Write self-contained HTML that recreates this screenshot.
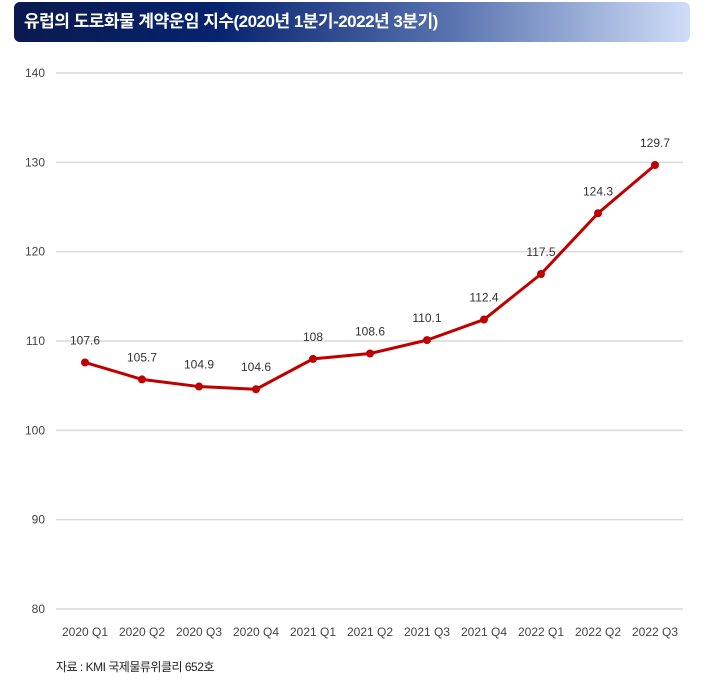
<!DOCTYPE html>
<html><head><meta charset="utf-8"><style>
body{margin:0;width:705px;height:689px;background:#fff;overflow:hidden;font-family:"Liberation Sans","Noto Sans CJK KR",sans-serif;}
#title{position:absolute;left:14px;top:2px;width:676px;height:40px;border-radius:6px;background:linear-gradient(90deg,#0a1a4f 0%,#06236f 30%,#5a74b0 65%,#cfddf8 100%);color:#fff;font-size:17px;font-weight:bold;line-height:40px;padding-left:10px;box-sizing:border-box;letter-spacing:-0.5px;}
#src{position:absolute;left:56px;top:658px;font-size:12px;color:#222;letter-spacing:-0.5px;}
</style></head><body>
<div id="title">유럽의 도로화물 계약운임 지수(2020년 1분기-2022년 3분기)</div>
<svg id="chart" width="705" height="689" style="position:absolute;left:0;top:0"></svg>
<div id="src">자료 : KMI 국제물류위클리 652호</div>
<script>
const categories=["2020 Q1","2020 Q2","2020 Q3","2020 Q4","2021 Q1","2021 Q2","2021 Q3","2021 Q4","2022 Q1","2022 Q2","2022 Q3"];
const values=[107.6,105.7,104.9,104.6,108,108.6,110.1,112.4,117.5,124.3,129.7];
const valueLabels=["107.6","105.7","104.9","104.6","108","108.6","110.1","112.4","117.5","124.3","129.7"];
const yTicks=[80,90,100,110,120,130,140];
const svg=document.getElementById('chart');const NS="http://www.w3.org/2000/svg";
const y=v=>609-(v-80)*(609-73)/60;
const x=i=>85+i*57;
function mk(t,a,txt){const e=document.createElementNS(NS,t);for(const k in a)e.setAttribute(k,a[k]);if(txt!=null)e.textContent=txt;svg.appendChild(e);return e;}
yTicks.forEach(t=>{
 let g=mk('line',{x1:56,x2:683,y1:y(t),y2:y(t),stroke:'#d9d9d9','stroke-width':1.5});
 
 
 let l=mk('text',{x:45,y:y(t)+4,'text-anchor':'end','font-size':12,fill:'#444','font-family':'Liberation Sans, sans-serif'},t);
 
 
});
categories.forEach((c,i)=>{
 let l=mk('text',{x:x(i),y:636,'text-anchor':'middle','font-size':12,fill:'#444','font-family':'Liberation Sans, sans-serif'},c);
 
 
});
let p=mk('polyline',{points:values.map((v,i)=>x(i)+','+y(v)).join(' '),fill:'none',stroke:'#c00000','stroke-width':3,'stroke-linejoin':'round'});


values.forEach((v,i)=>{
 let c=mk('circle',{cx:x(i),cy:y(v),r:4,fill:'#c00000'});
 
 
 let t=mk('text',{x:x(i),y:y(v)-18,'text-anchor':'middle','font-size':12,fill:'#333','font-family':'Liberation Sans, sans-serif'},valueLabels[i]);
 
 
});
</script>
</body></html>
